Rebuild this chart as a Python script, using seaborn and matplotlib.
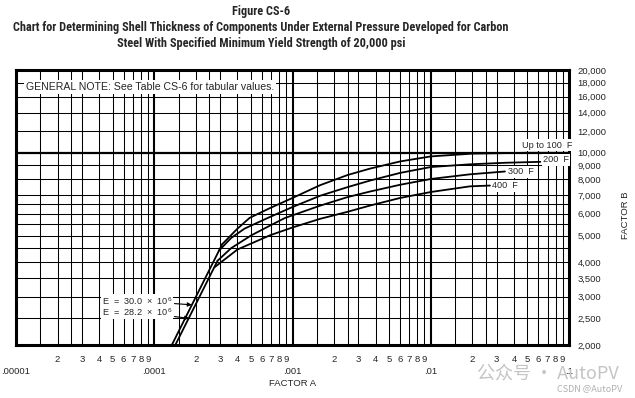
import matplotlib
matplotlib.use("Agg")
import matplotlib.pyplot as plt
from matplotlib import font_manager
import seaborn as sns
import pandas as pd
from matplotlib.ticker import NullLocator

# ---------------- data ----------------
curve_names = ["Up to 100  F", "200  F", "300  F", "400  F"]

A_100 = [3.1e-4, 4.0e-4, 4.9e-4, 6.9e-4, 1.0e-3, 1.58e-3, 2.5e-3, 3.64e-3, 6.0e-3, 1.0e-2, 2.0e-2, 5.0e-2, 1.0e-1]
B_100 = [4650, 5300, 5800, 6300, 6850, 7620, 8300, 8760, 9300, 9700, 9930, 10000, 10000]

A_200 = [2.93e-4, 3.6e-4, 4.5e-4, 6.65e-4, 1.0e-3, 1.58e-3, 2.5e-3, 3.64e-3, 6.0e-3, 1.0e-2, 1.92e-2, 3.5e-2, 6.2e-2]
B_200 = [4400, 4900, 5300, 5800, 6350, 6975, 7500, 7925, 8450, 8875, 9080, 9200, 9270]

A_300 = [2.87e-4, 3.6e-4, 5.0e-4, 6.9e-4, 8.8e-4, 1.58e-3, 2.5e-3, 3.64e-3, 6.0e-3, 1.0e-2, 1.92e-2, 3.44e-2]
B_300 = [4050, 4500, 5000, 5440, 5790, 6420, 6900, 7230, 7650, 8030, 8350, 8550]

A_400 = [2.72e-4, 4.0e-4, 6.9e-4, 1.0e-3, 1.58e-3, 2.5e-3, 3.64e-3, 6.0e-3, 1.0e-2, 1.92e-2, 2.68e-2]
B_400 = [3830, 4450, 5015, 5350, 5750, 6100, 6430, 6850, 7200, 7550, 7600]

E_labels = ["E  =  30.0  ×  10$^{6}$", "E  =  28.2  ×  10$^{6}$"]
A_E30 = [1.34e-4, 3.1e-4]
B_E30 = [2000, 4650]
A_E282 = [1.42e-4, 2.87e-4]
B_E282 = [2000, 4050]

x_decades = [1e-5, 1e-4, 1e-3, 1e-2, 1e-1]
x_decade_labels = [".00001", ".0001", ".001", ".01", ".1"]
x_grid_mult = [1.5, 2, 2.5, 3, 4, 5, 6, 7, 8, 9]
x_minor_mult = [2, 3, 4, 5, 6, 7, 8, 9]
x_minor_labels = ["2", "3", "4", "5", "6", "7", "8", "9"]

y_grid = [2000, 2500, 3000, 3500, 4000, 4500, 5000, 5500, 6000, 6500, 7000,
          8000, 9000, 10000, 12000, 14000, 16000, 18000, 20000]
y_ticks = [2000, 2500, 3000, 3500, 4000, 5000, 6000, 7000, 8000, 9000,
           10000, 12000, 14000, 16000, 18000, 20000]
y_tick_labels = ["2,000", "2,500", "3,000", "3,500", "4,000", "5,000", "6,000", "7,000",
                 "8,000", "9,000", "10,000", "12,000", "14,000", "16,000", "18,000", "20,000"]

title_lines = ["Figure CS-6",
               "Chart for Determining Shell Thickness of Components Under External Pressure Developed for Carbon",
               "Steel With Specified Minimum Yield Strength of 20,000 psi"]
note_text = "GENERAL NOTE: See Table CS-6 for tabular values."

# ---------------- build table ----------------
frames = []
for name, a, b in [("100", A_100, B_100), ("200", A_200, B_200), ("300", A_300, B_300),
                   ("400", A_400, B_400), ("E30", A_E30, B_E30), ("E282", A_E282, B_E282)]:
    frames.append(pd.DataFrame({"A": a, "B": b, "curve": name}))
df = pd.concat(frames, ignore_index=True)

# ---------------- figure ----------------
sns.set_style("white")
plt.rcParams["font.family"] = ["Liberation Sans", "DejaVu Sans"]
plt.rcParams["mathtext.default"] = "regular"

# pick a narrow bold face for the title if one is installed
installed = {f.name for f in font_manager.fontManager.ttflist}
narrow_face = None
for cand in ["Liberation Sans Narrow", "DejaVu Sans Condensed", "Roboto Condensed",
             "Open Sans Condensed", "Noto Sans Condensed", "Arial Narrow"]:
    if cand in installed:
        narrow_face = cand
        break
if narrow_face is not None:
    title_family, title_size = [narrow_face, "DejaVu Sans"], 8.8
else:
    title_family, title_size = ["Roboto", "Liberation Sans", "DejaVu Sans"], 7.4

W, H = 635, 398
fig = plt.figure(figsize=(W / 100, H / 100), dpi=100)
ax = fig.add_axes([16 / W, 1 - 345 / H, 553 / W, 275 / H])
ax.set_xscale("log")
ax.set_yscale("log")
ax.set_xlim(x_decades[0], x_decades[-1])
ax.set_ylim(y_grid[0], y_grid[-1])

# grid
for d in x_decades[:-1]:
    for m in x_grid_mult:
        ax.axvline(d * m, color="black", lw=0.75, zorder=1)
for d in x_decades[1:-1]:
    ax.axvline(d, color="black", lw=1.5, zorder=1)
for v in y_grid:
    ax.axhline(v, color="black", lw=1.6 if v == 10000 else 0.75, zorder=1)

sns.lineplot(data=df, x="A", y="B", units="curve", estimator=None, sort=False,
             color="black", lw=1.3, ax=ax, zorder=3, legend=False)

for s in ax.spines.values():
    s.set_visible(True)
    s.set_color("black")
    s.set_linewidth(2.2)
    s.set_zorder(5)

ax.set_xlabel("")
ax.set_ylabel("")

# ticks
ax.yaxis.tick_right()
ax.set_yticks(y_ticks, labels=y_tick_labels)
ax.yaxis.set_minor_locator(NullLocator())
ax.tick_params(axis="y", which="both", length=0, pad=6, labelsize=6.8)

ax.set_xticks(x_decades, labels=x_decade_labels)
minor_pos = [d * m for d in x_decades[:-1] for m in x_minor_mult]
ax.set_xticks(minor_pos, labels=x_minor_labels * (len(x_decades) - 1), minor=True)
ax.tick_params(axis="x", which="major", length=0, pad=15.5, labelsize=6.8)
ax.tick_params(axis="x", which="minor", length=0, pad=7, labelsize=6.8)

def fx(px):
    return px / W
def fy(py):
    return 1 - py / H

# title
for i, yy in enumerate([12, 28, 44]):
    fig.text(fx(261), fy(yy), title_lines[i], ha="center", va="center", fontsize=title_size,
             fontweight="bold", family=title_family)

# general note
fig.text(fx(26), fy(87), note_text, ha="left", va="center", fontsize=7.6, zorder=6,
         bbox=dict(facecolor="white", edgecolor="none", pad=1.5))

# curve labels
lab_kw = dict(ha="left", va="center", fontsize=6.6, zorder=6,
              bbox=dict(facecolor="white", edgecolor="none", pad=0.8))
fig.text(fx(522), fy(145), curve_names[0], **lab_kw)
fig.text(fx(543), fy(160), curve_names[1], **lab_kw)
fig.text(fx(508), fy(172), curve_names[2], **lab_kw)
fig.text(fx(492), fy(186), curve_names[3], **lab_kw)

# E annotations
ann_kw = dict(textcoords="figure fraction", ha="left", va="center", fontsize=6.6,
              bbox=dict(facecolor="white", edgecolor="none", pad=0.5),
              arrowprops=dict(arrowstyle="-|>", color="black", lw=0.8,
                              mutation_scale=6, shrinkA=1, shrinkB=0), zorder=6)
ax.annotate(E_labels[0], xy=(1.87e-4, 2800), xytext=(fx(102), fy(301)), **ann_kw)
ax.annotate(E_labels[1], xy=(1.79e-4, 2500), xytext=(fx(102), fy(312)), **ann_kw)

# axis titles
fig.text(fx(293), fy(384), "FACTOR A", ha="center", va="center", fontsize=6.8)
fig.text(fx(625), fy(215), "FACTOR B", ha="center", va="center", fontsize=6.8, rotation=90)

# watermark
cjk = ["Noto Sans CJK SC", "DejaVu Sans"]
fig.text(fx(548), fy(374), "公众号 · AutoPV", ha="center", va="center", fontsize=13,
         color="#c4c4c4", family=cjk)
fig.text(fx(590), fy(389), "CSDN @AutoPV", ha="center", va="center", fontsize=6.5,
         color="#b0b0b0", family=cjk)

fig.savefig("out.png", dpi=100, facecolor="white")
